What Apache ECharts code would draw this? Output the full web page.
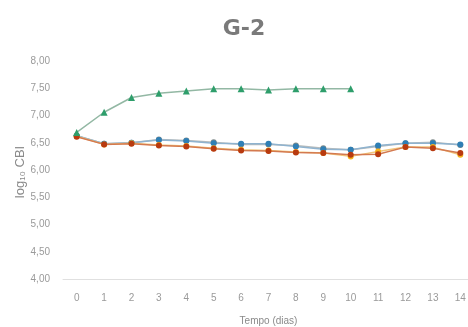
<!DOCTYPE html>
<html><head><meta charset="utf-8">
<script src="https://cdn.jsdelivr.net/npm/echarts@6/dist/echarts.min.js"></script>
<style>html,body{margin:0;padding:0;background:#fff}#c{width:468px;height:327px}</style>
</head><body><div id="c"></div>
<script>
var days = ['0','1','2','3','4','5','6','7','8','9','10','11','12','13','14'];
var seriesBlue   = [6.63, 6.48, 6.50, 6.55, 6.53, 6.49, 6.48, 6.48, 6.43, 6.38, 6.37, 6.45, 6.49, 6.49, 6.47];
var seriesGray   = [6.63, 6.48, 6.50, 6.56, 6.54, 6.51, 6.47, 6.47, 6.45, 6.40, 6.37, 6.43, 6.49, 6.51, 6.46];
var seriesYellow = [6.62, 6.47, 6.49, 6.46, 6.44, 6.40, 6.37, 6.36, 6.33, 6.31, 6.25, 6.34, 6.42, 6.42, 6.28];
var seriesRed    = [6.61, 6.47, 6.48, 6.45, 6.43, 6.39, 6.36, 6.35, 6.32, 6.31, 6.28, 6.29, 6.42, 6.40, 6.31];
var seriesGreen  = [6.69, 7.06, 7.33, 7.41, 7.45, 7.49, 7.49, 7.47, 7.49, 7.49, 7.49];
var yTicks = {min: 4, max: 8, step: 0.5};
var yAxisTitle = 'log\u2081\u2080 CBI';

function mk(name, data, color, lineColor, symbol, size) {
  return {name: name, type: 'line', data: data, symbol: symbol, symbolSize: size,
    itemStyle: {color: color}, lineStyle: {color: lineColor, width: 1.5}, z: 2};
}
var chart = echarts.init(document.getElementById('c'), null, {renderer: 'canvas'});
chart.setOption({
  animation: false,
  title: {text: 'G-2', left: 239, top: 13, textAlign: 'center',
    textStyle: {fontFamily: 'DejaVu Sans', fontWeight: 'bold', fontSize: 22, color: '#7a7a7a'}},
  grid: {left: 63, right: -6, top: 61, bottom: 48, containLabel: false, outerBoundsMode: 'none'},
  graphic: [{type: 'text', x: 20, y: 172, rotation: Math.PI / 2,
    style: {text: yAxisTitle, fill: '#8a8a8a', fontSize: 13, fontFamily: 'Liberation Sans',
      align: 'center', verticalAlign: 'middle'}}],
  xAxis: {type: 'category', data: days, boundaryGap: true,
    name: 'Tempo (dias)', nameLocation: 'middle', nameGap: 37,
    nameTextStyle: {color: '#8a8a8a', fontSize: 10, fontFamily: 'Liberation Sans'},
    axisLine: {lineStyle: {color: '#e0e0e0'}}, axisTick: {show: false},
    axisLabel: {color: '#9a9a9a', fontSize: 10, margin: 14, fontFamily: 'Liberation Sans'}},
  yAxis: {type: 'value', min: yTicks.min, max: yTicks.max, interval: yTicks.step,
    axisLine: {show: false}, axisTick: {show: false}, splitLine: {show: false},
    axisLabel: {color: '#9a9a9a', fontSize: 10, margin: 13, fontFamily: 'Liberation Sans',
      formatter: function(v){return v.toFixed(2).replace('.', ',');}}},
  series: [
    mk('gray', seriesGray, '#7f8a8a', '#b8bcbc', 'circle', 6),
    mk('blue', seriesBlue, '#2f7fb5', '#8fb3cf', 'circle', 6),
    mk('yellow', seriesYellow, '#f5b21c', '#f2c57a', 'circle', 6),
    mk('red', seriesRed, '#b83a10', '#d47a50', 'circle', 6),
    mk('green', seriesGreen, '#2e9e6b', '#93b8a4', 'triangle', 7)
  ]
});
</script></body></html>
